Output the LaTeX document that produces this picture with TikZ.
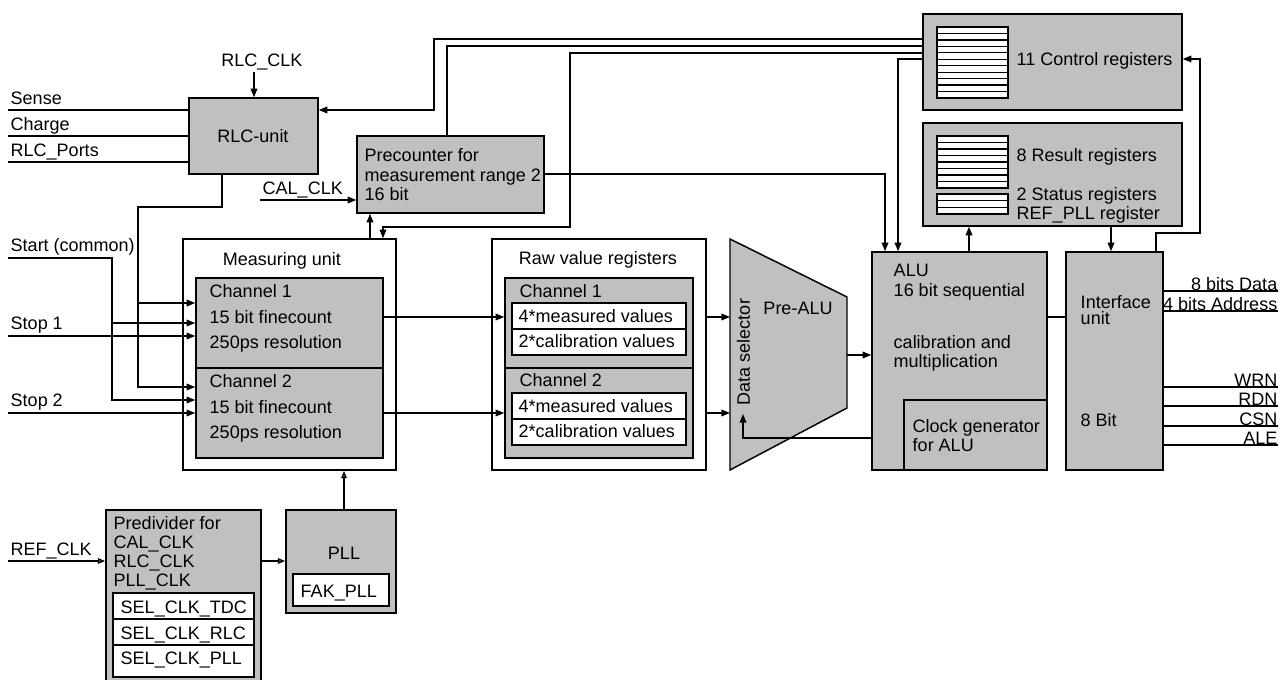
\documentclass[tikz,border=0pt]{standalone}
\usepackage{fontspec}
\setmainfont{Liberation Sans}
\usetikzlibrary{arrows.meta,fit}
\definecolor{boxgray}{RGB}{192,192,192}

\begin{document}
\begin{tikzpicture}[x=0.75pt,y=-0.75pt,line width=1.1pt,
  box/.style={draw,fill=boxgray,inner sep=0pt},
  wbox/.style={draw,fill=white,inner sep=0pt},
  lbl/.style={anchor=base west,inner sep=0pt,font=\fontsize{13.5}{16}\selectfont},
  clbl/.style={lbl,anchor=base},
  rlbl/.style={lbl,anchor=base east},
  arr/.style={-{Triangle[length=6.5pt,width=5pt]}},
  oarr/.style={-{Triangle[open,length=5.5pt,width=4pt]}},
  regrow/.style={draw,fill=white,line width=1pt},
]
\clip (0,0) rectangle (1288,680);

% ---------- register banks ----------
\node[box,fit={(923,14)(1182,110)}] (ctl) {};
\foreach \i in {0,...,10}
  \draw[regrow] (937,{27+\i*6.455}) rectangle (1008,{27+(\i+1)*6.455});
\node[lbl] (tctl) at (1016,66) {11 Control registers};

\node[box,fit={(923,123)(1182,226)}] (res) {};
\foreach \i in {0,...,7}
  \draw[regrow] (937,{136+\i*6.5}) rectangle (1008,{136+(\i+1)*6.5});
\foreach \i in {0,...,2}
  \draw[regrow] (937,{194+\i*6.67}) rectangle (1008,{194+(\i+1)*6.67});
\node[lbl] (tres) at (1016,162) {8 Result registers};
\node[lbl] (tstat) at (1016,201) {2 Status registers};
\node[lbl] (tref) at (1016,220) {REF\_PLL register};

% ---------- RLC unit ----------
\node[box,fit={(189,98)(318,174)}] (rlc) {};
\node[clbl] (trlc) at (253,143) {RLC-unit};
\node[clbl] (lrlcclk) at (262,67) {RLC\_CLK};
\coordinate (rlcclk) at (254,72);
\draw[arr] (rlcclk) -- (rlc.north -| rlcclk);

\node[lbl] (lsense) at (10,105) {Sense};
\node[lbl] (lcharge) at (10,131) {Charge};
\node[lbl] (lports) at (10,157) {RLC\_Ports};
\draw (8,110) -- (rlc.west |- 0,110);
\draw (8,136) -- (rlc.west |- 0,136);
\draw (8,162) -- (rlc.west |- 0,162);

% ---------- precounter ----------
\node[box,fit={(357,136)(544,213)}] (pre) {};
\node[lbl] (tpre1) at (364,162) {Precounter for};
\node[lbl] (tpre2) at (364,182) {measurement range 2};
\node[lbl] (tpre3) at (364,201) {16 bit};
\node[lbl] (lcal) at (262,195) {CAL\_CLK};
\draw[arr] (260,200) -- (pre.west |- 0,200);

% ---------- measuring unit ----------
\node[draw,fill=white,inner sep=0pt,fit={(183,239)(396,470)}] (meas) {};
\node[clbl] (tmeas) at (282,266) {Measuring unit};
\node[box,fit={(196,278)(383,368)}] (mch1) {};
\node[box,fit={(196,368)(383,458)}] (mch2) {};
\node[lbl] (tm11) at (209,298) {Channel 1};
\node[lbl] (tm12) at (209,323.5) {15 bit finecount};
\node[lbl] (tm13) at (209,349) {250ps resolution};
\node[lbl] (tm21) at (209,388) {Channel 2};
\node[lbl] (tm22) at (209,413.5) {15 bit finecount};
\node[lbl] (tm23) at (209,439) {250ps resolution};

% inputs of the measuring unit
\node[lbl] (lstart) at (10,252) {Start (common)};
\node[lbl] (lstop1) at (10,330) {Stop 1};
\node[lbl] (lstop2) at (10,407) {Stop 2};
\draw[arr] (8,258) -- (112,258) -- (112,400) -- (mch2.west |- 0,400);
\draw[arr] (112,323) -- (mch1.west |- 0,323);
\draw[arr] (8,336) -- (mch1.west |- 0,336);
\draw[arr] (8,413) -- (mch2.west |- 0,413);
\draw[arr] (rlc.south -| 222,0) -- (222,207) -- (138,207) -- (138,387) -- (mch2.west |- 0,387);
\draw[arr] (138,303) -- (mch1.west |- 0,303);

% ---------- raw value registers ----------
\node[draw,fill=white,inner sep=0pt,fit={(492,239)(706,470)}] (raw) {};
\node[clbl] (traw) at (598,265) {Raw value registers};
\node[box,fit={(505,278)(693,368)}] (rch1) {};
\node[box,fit={(505,368)(693,458)}] (rch2) {};
\node[wbox,fit={(512,303)(686,329)}] (r1a) {};
\node[wbox,fit={(512,329)(686,355)}] (r1b) {};
\node[wbox,fit={(512,393)(686,419)}] (r2a) {};
\node[wbox,fit={(512,419)(686,445)}] (r2b) {};
\node[lbl] (tr1) at (519,297.5) {Channel 1};
\node[lbl] (tr1a) at (518,323) {4*measured values};
\node[lbl] (tr1b) at (518,348) {2*calibration values};
\node[lbl] (tr2) at (519,387) {Channel 2};
\node[lbl] (tr2a) at (518,413) {4*measured values};
\node[lbl] (tr2b) at (518,438) {2*calibration values};

\draw[arr] (mch1.east |- 0,317) -- (rch1.west |- 0,317);
\draw[arr] (mch2.east |- 0,413) -- (rch2.west |- 0,413);

% ---------- pre-ALU / data selector ----------
\coordinate (pa1) at (730,239);
\coordinate (pa2) at (847,297);
\coordinate (pa3) at (847,408);
\coordinate (pa4) at (730,470);
\draw[fill=boxgray] (pa1) -- (pa2) -- (pa3) -- (pa4) -- cycle;
\node[rotate=90,inner sep=0pt,font=\fontsize{13.5}{16}\selectfont] (tdsel) at (743.5,352) {Data selector};
\node[clbl] (tpalu) at (798,315) {Pre-ALU};
\draw[arr] (raw.east |- 0,317) -- (730,317);
\draw[arr] (raw.east |- 0,413) -- (730,413);

% ---------- ALU ----------
\node[box,fit={(872,252)(1047,470)}] (alu) {};
\node[box,fit={(904,400)(1047,470)}] (clk) {};
\node[lbl] (talu1) at (893,277) {ALU};
\node[lbl] (talu2) at (893,296.5) {16 bit sequential};
\node[lbl] (talu3) at (893,349) {calibration and};
\node[lbl] (talu4) at (893,368) {multiplication};
\node[lbl] (tclk1) at (912,433) {Clock generator};
\node[lbl] (tclk2) at (912,452) {for ALU};
\draw[arr] (847,355) -- (alu.west |- 0,355);
\draw[arr] (alu.west |- 0,438) -- (743,438) -- (743,414);

% ---------- interface ----------
\node[box,fit={(1066,252)(1163,470)}] (ifc) {};
\node[lbl] (tifc1) at (1080,308.5) {Interface};
\node[lbl] (tifc2) at (1080,325) {unit};
\node[lbl] (tifc3) at (1080,427) {8 Bit};
\draw (alu.east |- 0,317) -- (ifc.west |- 0,317);

\foreach \y/\t/\n in {291/8 bits Data/od,311/4 bits Address/oa,387/WRN/ow,406/RDN/or,426/CSN/oc,445/ALE/ol}{
  \draw (ifc.east |- 0,\y) -- (1278,\y);
  \node[rlbl] (\n) at (1278,\y) {\t};
}

% ---------- bus lines from the control registers ----------
\draw[arr] (ctl.west |- 0,39) -- (434,39) -- (434,110) -- (rlc.east |- 0,110);
\draw (ctl.west |- 0,46) -- (447,46) -- (pre.north -| 447,0);
\draw[arr] (ctl.west |- 0,53) -- (570,53) -- (570,227) -- (383,227) -- (meas.north -| 383,0);
\draw[arr] (ctl.west |- 0,59) -- (898,59) -- (alu.north -| 898,0);
\draw[arr] (pre.east |- 0,174) -- (885,174) -- (alu.north -| 885,0);
\draw[arr] (meas.north -| 370,0) -- (pre.south -| 370,0);
\draw[arr] (alu.north -| 969,0) -- (res.south -| 969,0);
\draw[arr] (res.south -| 1111,0) -- (ifc.north -| 1111,0);
\draw[arr] (ifc.north -| 1156,0) -- (1156,233) -- (1200,233) -- (1200,59) -- (ctl.east |- 0,59);

% ---------- clock generation ----------
\node[box,fit={(106,510)(261,682)}] (pdiv) {};
\node[lbl] (tpd1) at (113,529) {Predivider for};
\node[lbl] (tpd2) at (113,548) {CAL\_CLK};
\node[lbl] (tpd3) at (113,567) {RLC\_CLK};
\node[lbl] (tpd4) at (113,586.5) {PLL\_CLK};
\node[wbox,fit={(113,593)(254,619)}] (s1) {};
\node[wbox,fit={(113,619)(254,645)}] (s2) {};
\node[wbox,fit={(113,645)(254,677)}] (s3) {};
\node[lbl] (ts1) at (120,613) {SEL\_CLK\_TDC};
\node[lbl] (ts2) at (120,639) {SEL\_CLK\_RLC};
\node[lbl] (ts3) at (120,664) {SEL\_CLK\_PLL};

\node[box,fit={(286,510)(396,613)}] (pll) {};
\node[clbl] (tpll) at (344,559) {PLL};
\node[wbox,fit={(293,574)(389,606)}] (fak) {};
\node[lbl] (tfak) at (300,597) {FAK\_PLL};

\node[lbl] (lref) at (10,555) {REF\_CLK};
\draw[oarr] (8,561) -- (pdiv.west |- 0,561);
\draw[oarr] (pdiv.east |- 0,561) -- (pll.west |- 0,561);
\draw[oarr] (pll.north -| 344,0) -- (meas.south -| 344,0);
\end{tikzpicture}
\end{document}
